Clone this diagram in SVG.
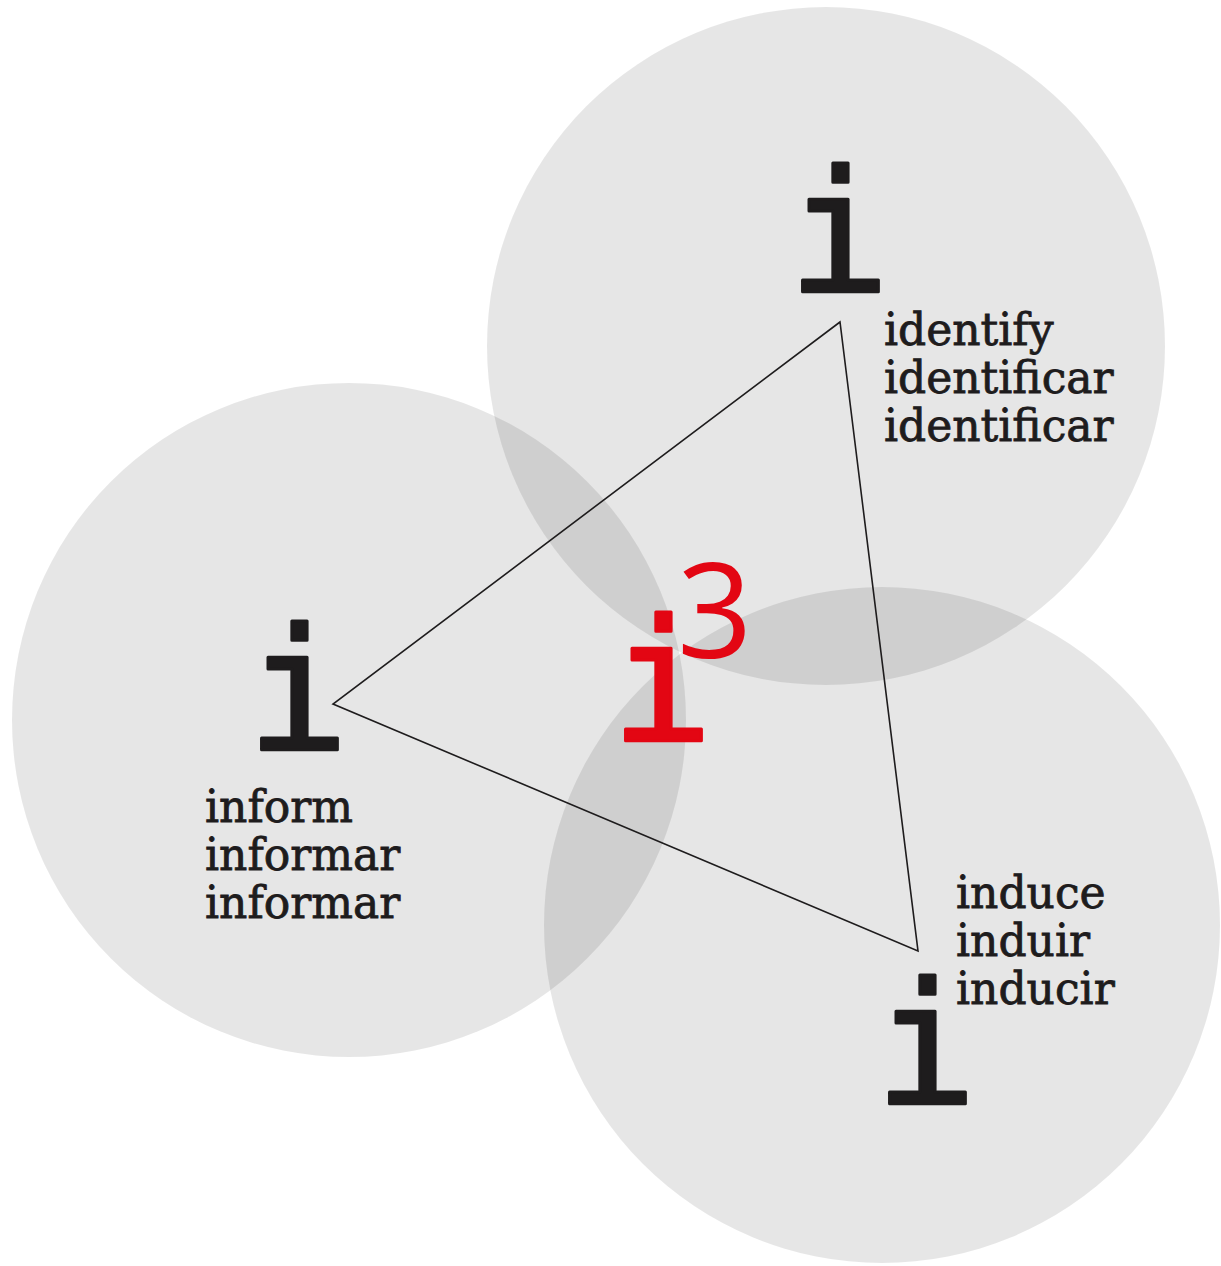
<svg xmlns="http://www.w3.org/2000/svg" width="1221" height="1266" viewBox="0 0 1221 1266">
<style>
.c{fill:#000;fill-opacity:0.098}
.big{font-family:"DejaVu Sans Mono",monospace;font-size:170px;text-anchor:middle;fill:#1e1c1d;stroke:#1e1c1d;stroke-width:3;stroke-linejoin:round}
.red{fill:#e30613;stroke:#e30613}
.sup{font-family:"Open Sans","Liberation Sans",sans-serif;font-size:132px;fill:#e30613}
.lab{font-family:"DejaVu Serif",serif;font-size:44px;fill:#1e1c1d;stroke:#1e1c1d;stroke-width:0.8}
</style>
<rect width="1221" height="1266" fill="#fff"/>
<g id="circles">
<circle class="c" cx="826" cy="346" r="339"/>
<circle class="c" cx="349" cy="720" r="337"/>
<circle class="c" cx="882" cy="925" r="338"/>
</g>
<g id="connectors">
<polygon points="840,322 333,704 918,951" fill="none" stroke="#1e1c1d" stroke-width="1.6" stroke-linejoin="miter"/>
</g>
<g id="node-identify">
<text class="big" x="839" y="292">i</text>
<text class="lab" x="884" y="345">identify</text>
<text class="lab" x="884" y="393">identificar</text>
<text class="lab" x="884" y="441">identificar</text>
</g>
<g id="node-inform">
<text class="big" x="298" y="750">i</text>
<text class="lab" x="205" y="822">inform</text>
<text class="lab" x="205" y="870">informar</text>
<text class="lab" x="205" y="918">informar</text>
</g>
<g id="node-induce">
<text class="big" x="926" y="1104">i</text>
<text class="lab" x="956" y="908">induce</text>
<text class="lab" x="956" y="956">induir</text>
<text class="lab" x="956" y="1004">inducir</text>
</g>
<g id="node-i3">
<text class="big red" x="662" y="741">i</text>
<text class="sup" x="677" y="658">3</text>
</g>
</svg>
